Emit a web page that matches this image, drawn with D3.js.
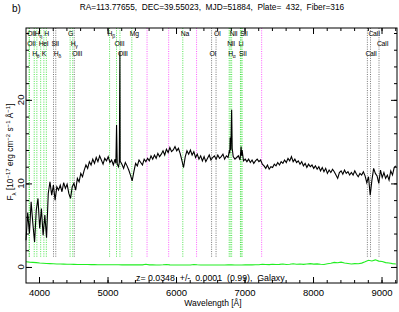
<!DOCTYPE html>
<html><head><meta charset="utf-8">
<script src="https://cdn.jsdelivr.net/npm/d3@7"></script>
<style>
body{margin:0;background:#fff}
text{font-family:"Liberation Sans",Arial,sans-serif;fill:#000;white-space:pre}
</style></head><body>
<svg width="399" height="312"></svg>
<script>
// redshift of the object
var redshift = 0.0348;

// observed flux, 25 A grid starting at 3810 A (10^-17 erg/cm2/s/A)
var fluxStart = 3810, fluxStep = 25;
var flux = [
  3.2, 6.5, 4.0, 7.8, 5.2, 3.0, 6.8, 8.2, 4.6, 7.0,
  3.8, 6.2, 3.5, 8.8, 10.2, 8.6, 9.8, 8.0, 9.6, 9.2,
  9.8, 9.0, 10.1, 9.4, 9.9, 8.8, 8.2, 9.6, 10.0, 9.2,
  10.6, 10.2, 11.2, 10.8, 11.6, 12.2, 11.8, 12.6, 12.2, 12.9,
  12.4, 13.1, 12.6, 13.3, 12.8, 12.3, 13.0, 12.7, 13.2, 12.5,
  12.8, 12.2, 12.9, 12.4, 12.0, 12.6, 12.3, 11.8, 12.5, 12.1,
  11.6, 11.0, 10.3, 11.4, 12.4, 12.1, 12.8, 12.5, 12.2, 12.9,
  12.6, 13.0, 12.7, 13.3, 12.9, 13.4, 13.0, 13.6, 13.2, 13.5,
  13.9, 13.4, 14.1, 13.7, 14.3, 13.8, 14.0, 14.4, 13.9, 14.2,
  13.6, 12.8, 11.9, 13.2, 13.9, 13.5, 14.0, 13.4, 13.8, 13.1,
  13.5, 12.9, 13.3, 12.7, 13.2, 12.6, 13.0, 13.4, 12.8, 13.1,
  13.3, 12.9, 13.4, 13.0, 13.2, 13.5, 12.9, 13.3, 13.1, 13.6,
  14.0, 13.2, 12.9, 13.1, 13.3, 12.8, 13.0, 12.7, 12.9, 12.6,
  12.9, 12.5, 12.8, 12.4, 12.7, 12.9, 12.6, 12.8, 12.3, 12.1,
  11.8, 12.2, 11.7, 12.0, 11.9, 12.3, 12.1, 12.5, 12.2, 12.6,
  12.4, 12.8, 12.5, 13.0, 12.7, 13.2, 12.6, 12.9, 12.5, 12.7,
  12.3, 12.6, 12.1, 12.4, 11.9, 12.3, 12.0, 12.2, 11.8, 12.1,
  11.7, 12.0, 11.5, 11.9, 11.4, 11.8, 11.2, 11.6, 11.3, 11.7,
  11.4, 11.0, 10.6, 11.3, 11.5, 11.1, 11.6, 11.2, 11.4, 11.0,
  11.3, 11.0, 11.5, 11.1, 10.8, 11.2, 11.0, 11.4, 10.9, 10.1,
  10.8, 8.6, 10.4, 11.8, 11.2, 10.9, 10.0, 11.6, 10.7, 11.3,
  10.6, 11.0, 10.4, 11.5, 11.0, 11.9, 12.1
];

// emission line peaks sampled finer [observed wavelength, flux]
var emPeaks = [
  [5122, 12.4], [5132, 17.0], [5142, 12.3],
  [5172, 12.5], [5181, 25.8], [5190, 12.6],
  [6776, 13.8], [6791, 15.5], [6800, 14.0], [6812, 18.8], [6820, 14.2],
  [6950, 14.4], [6958, 13.3], [6965, 14.0]
];

// error spectrum, 50 A grid starting at 3810 A
var errStart = 3810, errStep = 50;
var errFlux = [
  0.62, 0.58, 0.55, 0.52, 0.48, 0.45, 0.42, 0.40, 0.38, 0.36,
  0.35, 0.34, 0.33, 0.32, 0.31, 0.30, 0.30, 0.29, 0.29, 0.28,
  0.28, 0.27, 0.27, 0.27, 0.26, 0.26, 0.26, 0.26, 0.25, 0.25,
  0.25, 0.25, 0.25, 0.25, 0.25, 0.33, 0.25, 0.25, 0.24, 0.24,
  0.26, 0.30, 0.25, 0.24, 0.24, 0.24, 0.24, 0.24, 0.24, 0.30,
  0.26, 0.24, 0.24, 0.24, 0.24, 0.24, 0.24, 0.24, 0.24, 0.25,
  0.25, 0.24, 0.24, 0.24, 0.25, 0.26, 0.25, 0.26, 0.27, 0.33,
  0.30, 0.28, 0.32, 0.29, 0.31, 0.35, 0.30, 0.33, 0.38, 0.32,
  0.35, 0.31, 0.36, 0.40, 0.34, 0.37, 0.33, 0.30, 0.38, 0.45,
  0.55, 0.50, 0.58, 0.48, 0.42, 0.36, 0.40, 0.38, 0.46, 0.62,
  0.80, 0.72, 0.85, 0.70, 0.66, 0.52, 0.48, 0.40, 0.35
];

// spectral line identifications (rest wavelengths)
var lineNames = ["OII","H_η","H","G","H_β","Mg","Na","OI","NII","SII","CaII",
                 "OII","HeI","SII","H_γ","OIII","NII","Li","CaII",
                 "H_θ","K","H_δ","OIII","OIII","OI","H_α","SII","CaII"];
var lineRest  = [3727,3835,3969,4304,4861,5175,5894,6363,6583,6731,8542,
                 3729,3889,4070,4341,4959,6548,6707,8662,
                 3798,3934,4102,4363,5007,6300,6563,6716,8498];
var lineRow   = [1,1,1,1,1,1,1,1,1,1,1,
                 2,2,2,2,2,2,2,2,
                 3,3,3,3,3,3,3,3,3];
var lineKind  = ["em","em","em","em","em","em","em","abs","em","em","abs",
                 "em","em","abs","em","em","em","em","abs",
                 "em","em","abs","abs","em","abs","em","em","abs"];
var skyLines = [5577, 5893, 6300, 7250];

var xTicks = [4000, 5000, 6000, 7000, 8000, 9000];
var yTicks = [0, 10, 20];

var svg = d3.select("svg");
var pLeft = 26, pRight = 397, pTop = 28, pBottom = 283;

var x = d3.scaleLinear().domain([3810, 9226]).range([pLeft, pRight]);
var y = d3.scaleLinear().domain([-1.92, 28.6]).range([pBottom, pTop]);

var kindColor = {em: "#22dd22", abs: "#555", sky: "#ff33ff"};

// vertical line markers
var marks = lineRest.map(function(w, i) { return {w: w * (1 + redshift), kind: lineKind[i]}; })
  .concat(skyLines.map(function(w) { return {w: w, kind: "sky"}; }));

svg.append("g").selectAll("line").data(marks).enter().append("line")
  .attr("x1", function(d) { return x(d.w); })
  .attr("x2", function(d) { return x(d.w); })
  .attr("y1", pTop)
  .attr("y2", y(1.1))
  .attr("stroke", function(d) { return kindColor[d.kind]; })
  .attr("stroke-width", 0.8)
  .attr("stroke-dasharray", "1,1.3");

// line labels, three rows
var rowY = {1: 35.5, 2: 45.5, 3: 56};
var lab = svg.append("g").selectAll("text")
  .data(lineNames.map(function(n, i) { return {name: n, w: lineRest[i] * (1 + redshift), row: lineRow[i]}; }))
  .enter().append("text")
  .attr("x", function(d) { return x(d.w) - 2; })
  .attr("y", function(d) { return rowY[d.row]; })
  .attr("font-size", "6.8px")
  .attr("letter-spacing", "-0.3px");
lab.each(function(d) {
  var parts = d.name.split("_");
  var t = d3.select(this);
  t.append("tspan").text(parts[0]);
  if (parts[1]) t.append("tspan").attr("font-size", "5px").attr("dy", 2).text(parts[1]);
});

// spectrum
var spec = flux.map(function(f, i) { return [fluxStart + i * fluxStep, f]; })
  .filter(function(p) {
    return !emPeaks.some(function(q) { return Math.abs(q[0] - p[0]) < 4; });
  })
  .concat(emPeaks)
  .sort(function(a, b) { return a[0] - b[0]; });

var line = d3.line().x(function(d) { return x(d[0]); }).y(function(d) { return y(d[1]); });

svg.append("path").datum(spec)
  .attr("d", line).attr("fill", "none")
  .attr("stroke", "#000").attr("stroke-width", 1.1);

var err = errFlux.map(function(f, i) { return [errStart + i * errStep, f]; });
svg.append("path").datum(err)
  .attr("d", line).attr("fill", "none")
  .attr("stroke", "#22ee22").attr("stroke-width", 1.1);

// frame and ticks
var minorX = d3.range(3800, 9300, 200).filter(function(v) { return v > 3810 && v < 9226; });
var minorY = d3.range(0, 29, 2);

function tickG(axis, tr) {
  var g = svg.append("g").attr("transform", tr).call(axis);
  g.select(".domain").remove();
  g.selectAll("line").attr("stroke", "#000");
  return g;
}
tickG(d3.axisBottom(x).tickValues(minorX).tickSize(-3).tickFormat(""), "translate(0," + pBottom + ")");
tickG(d3.axisTop(x).tickValues(minorX).tickSize(-3).tickFormat(""), "translate(0," + pTop + ")");
tickG(d3.axisTop(x).tickValues(xTicks).tickSize(-6).tickFormat(""), "translate(0," + pTop + ")");
var bx = tickG(d3.axisBottom(x).tickValues(xTicks).tickSize(-6).tickPadding(6).tickFormat(d3.format("d")),
  "translate(0," + pBottom + ")");
bx.selectAll("text").attr("font-size", "9.5px").attr("font-family", "Liberation Sans, Arial, sans-serif");

tickG(d3.axisLeft(y).tickValues(minorY).tickSize(-3).tickFormat(""), "translate(" + pLeft + ",0)");
tickG(d3.axisLeft(y).tickValues(yTicks).tickSize(-6).tickFormat(""), "translate(" + pLeft + ",0)");
tickG(d3.axisRight(y).tickValues(minorY).tickSize(-3).tickFormat(""), "translate(" + pRight + ",0)");
tickG(d3.axisRight(y).tickValues(yTicks).tickSize(-6).tickFormat(""), "translate(" + pRight + ",0)");

svg.append("g").selectAll("text").data(yTicks).enter().append("text")
  .attr("transform", function(d) { return "translate(23.5," + y(d) + ") rotate(-90)"; })
  .attr("text-anchor", "middle").attr("font-size", "9.5px")
  .text(function(d) { return d; });

svg.append("rect")
  .attr("x", pLeft).attr("y", pTop)
  .attr("width", pRight - pLeft).attr("height", pBottom - pTop)
  .attr("fill", "none").attr("stroke", "#000").attr("stroke-width", 1);

// texts
svg.append("text").attr("x", 12).attr("y", 12).attr("font-size", "10px").text("b)");
svg.append("text").attr("x", 212).attr("y", 10).attr("text-anchor", "middle")
  .attr("font-size", "8.3px")
  .text("RA=113.77655,  DEC=39.55023,  MJD=51884,  Plate=  432,  Fiber=316");
svg.append("text").attr("x", 136).attr("y", 281).attr("font-size", "8.8px")
  .text("z= 0.0348  +/-  0.0001  (0.99),  Galaxy");
svg.append("text").attr("x", 213).attr("y", 306).attr("text-anchor", "middle")
  .attr("font-size", "8.5px").text("Wavelength [Å]");

var yl = svg.append("text")
  .attr("transform", "translate(12.5,152) rotate(-90)")
  .attr("text-anchor", "middle").attr("font-size", "8.3px");
[["F", 0], ["λ", 1], [" [10", 0], ["−17", -1], [" erg cm", 0], ["−2", -1], [" s", 0], ["−1", -1], [" Å", 0], ["−1", -1], ["]", 0]]
  .forEach(function(p, i, arr) {
    var prev = i > 0 ? arr[i - 1][1] : 0;
    yl.append("tspan")
      .attr("dy", (p[1] - prev) * 3)
      .attr("font-size", p[1] ? "6px" : "8.3px")
      .text(p[0]);
  });
</script>
</body></html>
